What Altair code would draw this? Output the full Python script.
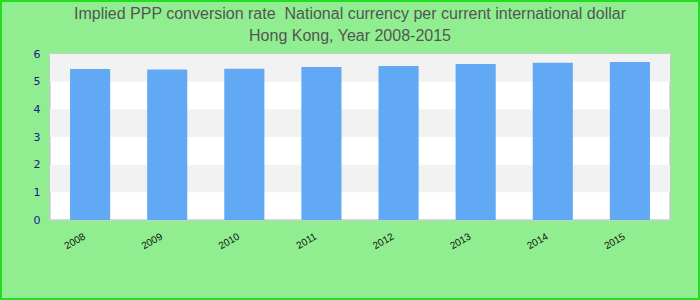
import altair as alt
import pandas as pd

years = ["2008", "2009", "2010", "2011", "2012", "2013", "2014", "2015"]
values = [5.46, 5.44, 5.47, 5.53, 5.57, 5.64, 5.68, 5.71]
band_lo = [1, 3, 5]
band_hi = [2, 4, 6]

df = pd.DataFrame({"year": years, "value": values})
bands_df = pd.DataFrame({"lo": band_lo, "hi": band_hi})

yscale = alt.Scale(domain=[0, 6], nice=False)
yaxis = alt.Axis(values=[0, 1, 2, 3, 4, 5, 6], tickCount=7, grid=False, ticks=False, domain=False,
                 labelOverlap=False, labelFlush=False,
                 labelPadding=10, labelColor="#1a1a8c", labelFontSize=11,
                 labelFont="DejaVu Sans")

bands = alt.Chart(bands_df).mark_rect(color="#f2f2f2").encode(
    y=alt.Y("lo:Q", scale=yscale, title=None, axis=yaxis),
    y2="hi:Q",
    x=alt.value(0),
    x2=alt.value(620),
)

bars = alt.Chart(df).mark_bar(color="#61a8f5").encode(
    x=alt.X("year:N", sort=years, title=None,
            scale=alt.Scale(paddingInner=0.48, paddingOuter=0.26),
            axis=alt.Axis(labelAngle=-30, labelAlign="right", labelBaseline="top",
                          labelPadding=11, labelOffset=-8, ticks=False, domain=False,
                          labelColor="#111111", labelFontSize=10, labelFont="Liberation Sans")),
    y=alt.Y("value:Q", scale=yscale, title=None, axis=yaxis),
)

border = alt.Chart(df).mark_rect(fill=None, stroke="#22dd22", strokeWidth=1.5).encode(
    x=alt.value(-49.25), x2=alt.value(649.25), y=alt.value(-53.25), y2=alt.value(245.25)
)

chart = alt.layer(bands, bars, border).properties(
    width=620,
    height=166,
    autosize=alt.AutoSizeParams(type="none"),
    padding={"left": 50, "top": 54, "right": 30, "bottom": 80},
    background="#90ee90",
    title=alt.TitleParams(
        text=["Implied PPP conversion rate\u00a0 National currency per current international dollar",
              "Hong Kong, Year 2008-2015"],
        fontSize=16, font="Liberation Sans", fontWeight="normal", color="#555555",
        lineHeight=22, offset=10, dx=-10, dy=54, anchor="middle",
    ),
).configure_view(fill="white", stroke="#cccccc", strokeWidth=1.5)

chart.save("out.html", embed_options={"renderer": "svg", "actions": False})
